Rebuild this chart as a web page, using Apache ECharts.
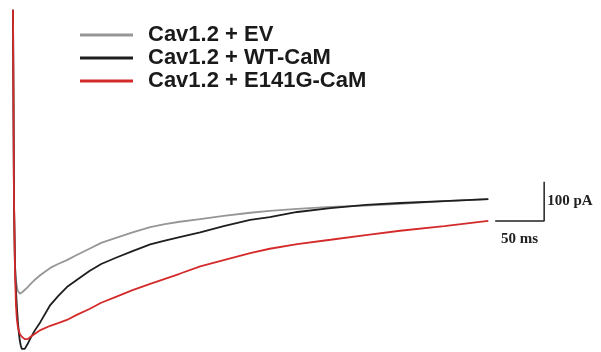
<!DOCTYPE html>
<html>
<head>
<meta charset="utf-8">
<script src="https://cdn.jsdelivr.net/npm/echarts@6/dist/echarts.min.js"></script>
<style>
html,body{margin:0;padding:0;background:#fff;}
#chart{width:601px;height:352px;}
</style>
</head>
<body>
<div id="chart"></div>
<script>
// time (ms)
var timeMs = [0, 1, 2, 3, 4, 5, 6, 7, 8, 9, 10, 12, 15, 18, 22, 28, 38, 46, 55, 65, 78, 90, 105, 122, 140, 155, 170, 191, 215, 242, 262, 290, 324, 360, 395, 440, 485];
// current (pA)
var evCurrent = [435, -51, -217, -256, -274, -284, -289, -291, -291, -289, -286, -281, -274, -266, -256, -243, -225, -215, -205, -192, -176, -161, -148, -134, -121, -113, -107, -100, -92, -84, -79, -74, -69, -66, -61, -54, -49];
var wtCurrent = [435, -51, -217, -281, -327, -363, -391, -412, -424, -432, -435, -432, -419, -404, -386, -363, -320, -297, -274, -256, -233, -215, -199, -182, -165, -155, -146, -134, -118, -102, -95, -82, -72, -64, -59, -54, -49];
var e141gCurrent = [435, -51, -230, -320, -358, -376, -386, -394, -399, -401, -404, -407, -407, -401, -394, -384, -373, -366, -358, -345, -330, -314, -299, -282, -266, -253, -240, -221, -205, -187, -176, -164, -153, -141, -130, -118, -105];
var seriesNames = ['Cav1.2 + EV', 'Cav1.2 + WT-CaM', 'Cav1.2 + E141G-CaM'];
// scale bar: 50 ms x 100 pA
var scaleBarTime = [492, 517, 542, 542, 542];
var scaleBarCurrent = [-105, -105, -105, -55, -5];
var scaleLabels = ['', '50 ms', '', '100 pA', ''];

function pairs(t, v) { return t.map(function (x, i) { return [x, v[i]]; }); }

var chart = echarts.init(document.getElementById('chart'));
var scaleData = pairs(scaleBarTime, scaleBarCurrent).map(function (p, i) {
  var item = { value: p };
  if (scaleLabels[i]) {
    item.label = { show: true, formatter: scaleLabels[i], position: i === 1 ? 'bottom' : 'right', distance: i === 1 ? 11 : 3 };
  }
  return item;
});
function traceSeries(name, values, color, width) {
  return {
    name: name, type: 'line', data: pairs(timeMs, values),
    showSymbol: false, symbol: 'none', smooth: false,
    lineStyle: { color: color, width: width }, itemStyle: { color: color },
    silent: true, animation: false
  };
}
chart.setOption({
  animation: false,
  backgroundColor: '#ffffff',
  grid: { left: 13, right: 0, top: 0, bottom: 0 },
  xAxis: { type: 'value', min: 0, max: 600, show: false },
  yAxis: { type: 'value', min: -440, max: 460, show: false },
  legend: {
    orient: 'vertical', left: 80, top: 24, itemGap: 1, padding: 0,
    icon: 'rect', itemWidth: 53, itemHeight: 3,
    data: seriesNames,
    textStyle: { fontFamily: 'Liberation Sans, Arial, sans-serif', fontWeight: 'bold', fontSize: 22, color: '#1a1a1a', lineHeight: 22, padding: [0, 0, 0, 10] }
  },
  series: [
    traceSeries(seriesNames[0], evCurrent, '#969696', 1.8),
    traceSeries(seriesNames[1], wtCurrent, '#1e1e1e', 1.8),
    traceSeries(seriesNames[2], e141gCurrent, '#d42a2a', 1.8),
    {
      name: 'scale', type: 'line', data: scaleData, symbol: 'circle', symbolSize: 0, showSymbol: true,
      itemStyle: { color: '#222' },
      lineStyle: { color: '#222', width: 1.5 }, silent: true,
      label: { show: false, fontFamily: 'Liberation Serif, Times New Roman, serif', fontWeight: 'bold', fontSize: 15, color: '#222' }
    }
  ]
});
</script>
</body>
</html>
